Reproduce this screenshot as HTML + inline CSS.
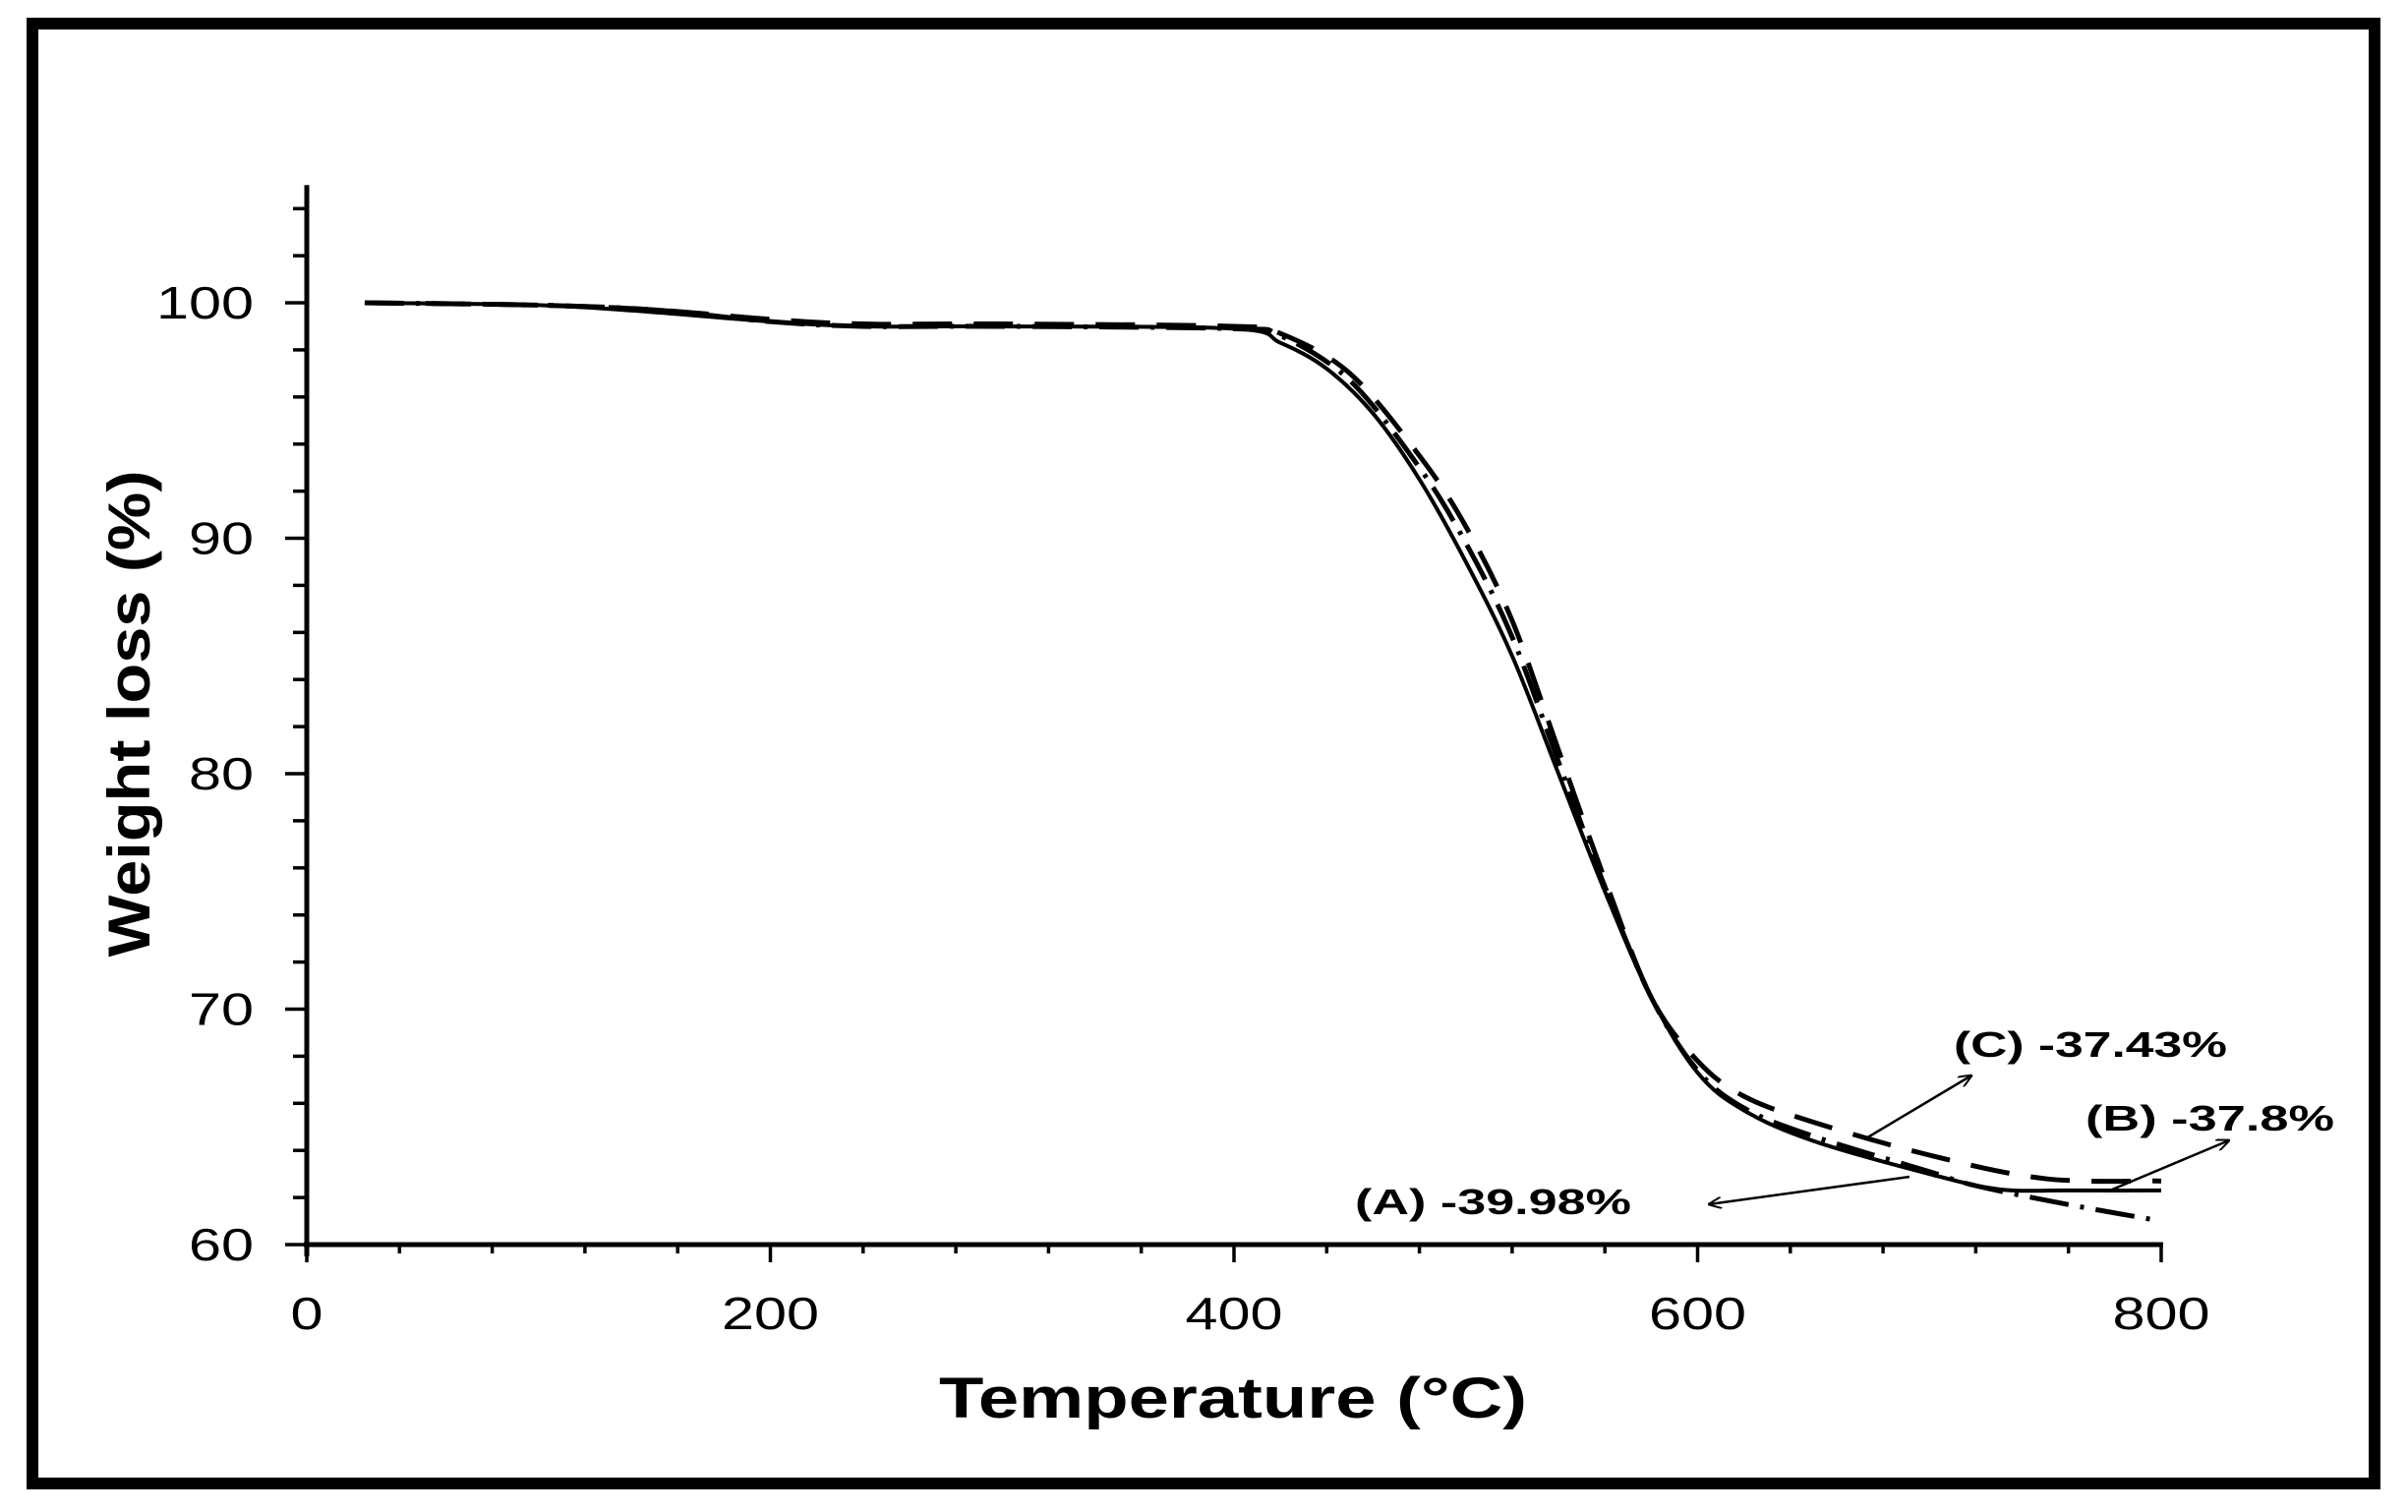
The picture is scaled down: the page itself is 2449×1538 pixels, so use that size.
<!DOCTYPE html>
<html><head><meta charset="utf-8"><style>
html,body{margin:0;padding:0;background:#fff;}
svg{display:block;font-family:"Liberation Sans",Arial,sans-serif;}
</style></head><body>
<svg id="chart" width="2449" height="1538" viewBox="0 0 2449 1538">
<rect x="33" y="24" width="2382" height="1485" fill="none" stroke="#000" stroke-width="12"/>
<g id="axes"></g>
<g id="series"></g>
<text x="955" y="1442" font-size="58" font-weight="bold" textLength="598" lengthAdjust="spacingAndGlyphs">Temperature (°C)</text>
<text transform="translate(152,726) rotate(-90)" font-size="60" font-weight="bold" text-anchor="middle" textLength="495" lengthAdjust="spacingAndGlyphs">Weight loss (%)</text>
<g font-size="36" font-weight="bold">
<text x="1987" y="1075" textLength="278" lengthAdjust="spacingAndGlyphs">(C) -37.43%</text>
<text x="2121" y="1150" textLength="253" lengthAdjust="spacingAndGlyphs">(B) -37.8%</text>
<text x="1378" y="1235" textLength="281" lengthAdjust="spacingAndGlyphs">(A) -39.98%</text>
</g>
<defs><marker id="ah" markerWidth="14" markerHeight="12" refX="13" refY="6" orient="auto" markerUnits="userSpaceOnUse"><path d="M0,0 L14,6 L0,12" fill="none" stroke="#000" stroke-width="2"/></marker></defs>
<line x1="1896" y1="1159" x2="2005" y2="1094" stroke="#000" stroke-width="2.5" marker-end="url(#ah)"/>
<line x1="2148" y1="1210" x2="2267" y2="1160" stroke="#000" stroke-width="2.5" marker-end="url(#ah)"/>
<line x1="1942" y1="1197" x2="1738" y2="1225" stroke="#000" stroke-width="2.5" marker-end="url(#ah)"/>
</svg>
<script>
const xTicks=[0,200,400,600,800];
const yTicks=[60,70,80,90,100];
const tempA=[25,100,150,200,240,300,400,420,440,460,480,500,520,540,560,580,600,620,650,700,730,760,800];
const weightA=[100,99.9,99.6,99.2,99.0,99.0,98.9,98.3,97.2,95.3,92.5,89.0,85.0,80.0,75.0,70.5,67.3,65.7,64.4,63.0,62.35,62.3,62.3];
const tempB=[25,100,150,200,240,300,400,420,450,480,500,520,540,560,580,600,620,650,700,720,760,800];
const weightB=[100,99.9,99.7,99.2,99.0,99.0,98.9,98.6,96.7,93.0,89.8,85.8,80.5,75.2,70.5,67.4,65.8,64.6,63.1,62.5,61.7,61.0];
const tempC=[25,100,150,200,240,300,400,420,450,480,500,520,540,560,580,600,620,650,700,750,800];
const weightC=[100,99.9,99.7,99.3,99.1,99.1,99.0,98.7,97.0,93.5,90.5,86.5,81.0,75.5,70.5,67.8,66.3,65.2,63.8,62.8,62.7];
const NS='http://www.w3.org/2000/svg';
const X0=312,X1=2198,Y60=1266,Y100=308;
function sx(v){return X0+(v/800)*(X1-X0);}
function sy(v){return Y60-(v-60)/40*(Y60-Y100);}
function mk(tag,attrs,parent){const e=document.createElementNS(NS,tag);for(const k in attrs)e.setAttribute(k,attrs[k]);parent.appendChild(e);return e;}
const axes=document.getElementById('axes');
let el=mk('line',{x1:X0,y1:sy(105),x2:X0,y2:Y60+12,stroke:'#000','stroke-width':5},axes);


el=mk('line',{x1:X0-3,y1:Y60,x2:X1+2,y2:Y60,stroke:'#000','stroke-width':5},axes);


for(let v=60;v<=104;v+=2){const major=(v%10===0);
 el=mk('line',{x1:X0-(major?22:14),y1:sy(v),x2:X0,y2:sy(v),stroke:'#000','stroke-width':3.5},axes);
 
 }
yTicks.forEach(v=>{const s=String(v);el=mk('text',{x:258,y:sy(v)+16,'font-size':46,'text-anchor':'end',textLength:s.length*33,lengthAdjust:'spacingAndGlyphs'},axes);el.textContent=s;
 
 });
for(let v=0;v<=800;v+=40){const major=(v%200===0);
 el=mk('line',{x1:sx(v),y1:Y60,x2:sx(v),y2:Y60+(major?18:9),stroke:'#000','stroke-width':3.5},axes);
 
 }
xTicks.forEach(v=>{const s=String(v);el=mk('text',{x:sx(v),y:1352,'font-size':46,'text-anchor':'middle',textLength:s.length*33,lengthAdjust:'spacingAndGlyphs'},axes);el.textContent=s;
 
 });
function pathD(xs,ys){const p=xs.map((t,i)=>[sx(t),sy(ys[i])]);let d='M'+p[0][0]+','+p[0][1];
 for(let i=0;i<p.length-1;i++){const a=p[Math.max(0,i-1)],b=p[i],c=p[i+1],e=p[Math.min(p.length-1,i+2)];
  d+=' C'+(b[0]+(c[0]-a[0])/6)+','+(b[1]+(c[1]-a[1])/6)+' '+(c[0]-(e[0]-b[0])/6)+','+(c[1]-(e[1]-b[1])/6)+' '+c[0]+','+c[1];}
 return d;}
const series=document.getElementById('series');
el=mk('path',{d:pathD(tempB,weightB),fill:'none',stroke:'#000','stroke-width':5,'stroke-dasharray':'40 12 4 12'},series);


el=mk('path',{d:pathD(tempC,weightC),fill:'none',stroke:'#000','stroke-width':5,'stroke-dasharray':'40 22'},series);


el=mk('path',{d:pathD(tempA,weightA),fill:'none',stroke:'#000','stroke-width':4},series);


</script>
</body></html>
